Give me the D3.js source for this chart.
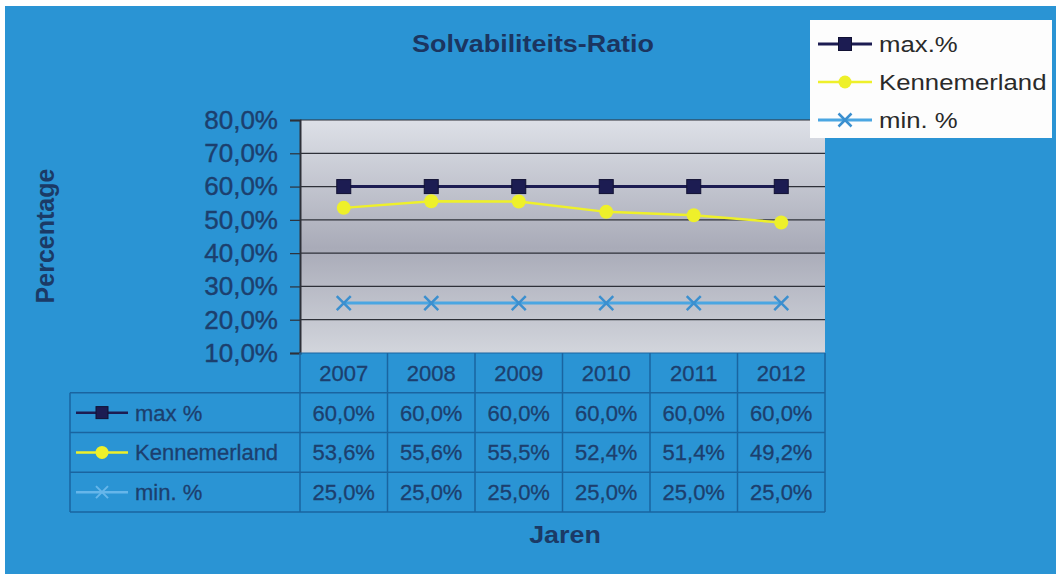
<!DOCTYPE html>
<html><head><meta charset="utf-8">
<script src="https://cdn.jsdelivr.net/npm/d3@7"></script>
<style>html,body{margin:0;padding:0;background:#fff;}svg{display:block;}</style>
</head><body>
<svg id="chart" width="1056" height="574"></svg>
<script>
const years = ["2007","2008","2009","2010","2011","2012"];
const maxPct = [0.60,0.60,0.60,0.60,0.60,0.60];
const kennemerland = [0.536,0.556,0.555,0.524,0.514,0.492];
const minPct = [0.25,0.25,0.25,0.25,0.25,0.25];
const yTicks = [0.1,0.2,0.3,0.4,0.5,0.6,0.7,0.8];
const seriesNames = ["max %","Kennemerland","min. %"];
const legendNames = ["max.%","Kennemerland","min. %"];
const title = "Solvabiliteits-Ratio";
const yTitle = "Percentage";
const xTitle = "Jaren";

const series = [
  {name: seriesNames[0], legend: legendNames[0], values: maxPct, color:"#1c1c52", marker:"square", width:3},
  {name: seriesNames[1], legend: legendNames[1], values: kennemerland, color:"#eef02a", marker:"circle", width:2.5},
  {name: seriesNames[2], legend: legendNames[2], values: minPct, color:"#4aa6e2", marker:"x", width:3}
];

const fmt = d3.formatLocale({decimal:",", thousands:".", grouping:[3], currency:["€",""]}).format(".1%");
const svg = d3.select("#chart");
const FONT = "Liberation Sans, Arial, sans-serif";
const txtColor = "#1c3f6e";

// background
svg.append("rect").attr("x",5).attr("y",6).attr("width",1051).attr("height",568).attr("fill","#2a94d4");

const L=300,R=825,T=120,B=353;
const x = d3.scaleBand().domain(years).range([L,R]);
const y = d3.scaleLinear().domain([0.1,0.8]).range([B,T]);

// plot area gradient
const defs = svg.append("defs");
const g = defs.append("linearGradient").attr("id","pg").attr("x1",0).attr("y1",0).attr("x2",0).attr("y2",1);
g.append("stop").attr("offset","0%").attr("stop-color","#dde0e7");
g.append("stop").attr("offset","55%").attr("stop-color","#a9abb8");
g.append("stop").attr("offset","100%").attr("stop-color","#d2d5dc");
svg.append("rect").attr("x",L).attr("y",T).attr("width",R-L).attr("height",B-T).attr("fill","url(#pg)");

// gridlines
svg.append("g").selectAll("line").data(yTicks.slice(1)).join("line")
  .attr("x1",L).attr("x2",R).attr("y1",d=>y(d)).attr("y2",d=>y(d))
  .attr("stroke","#2e3038").attr("stroke-width",1.2);

// y axis
const ya = svg.append("g").attr("transform",`translate(${L},0)`)
  .call(d3.axisLeft(y).tickValues(yTicks).tickFormat(fmt).tickSize(10).tickPadding(12));
ya.select(".domain").attr("stroke","#2e3038").attr("stroke-width",2);
ya.selectAll(".tick line").attr("stroke","#2e3038").attr("stroke-width",1.2);
ya.selectAll(".tick text").attr("fill",txtColor).attr("stroke",txtColor).attr("stroke-width",0.4)
  .attr("font-family",FONT).attr("font-size",26);

// lines
const line = d3.line().x((d,i)=>x(years[i])+x.bandwidth()/2).y(d=>y(d));
function drawMarker(sel, s, cx, cy, size){
  if(s.marker==="square"){
    sel.append("rect").attr("x",cx-size/2).attr("y",cy-size/2).attr("width",size).attr("height",size)
      .attr("fill",s.color).attr("stroke","#111133").attr("stroke-width",1);
  } else if(s.marker==="circle"){
    sel.append("circle").attr("cx",cx).attr("cy",cy).attr("r",size/2).attr("fill",s.color);
  } else {
    const h=size/2;
    sel.append("path").attr("d",`M${cx-h},${cy-h}L${cx+h},${cy+h}M${cx-h},${cy+h}L${cx+h},${cy-h}`)
      .attr("stroke","#3b8fcf").attr("stroke-width",2.5).attr("fill","none");
  }
}
series.forEach(s=>{
  svg.append("path").datum(s.values).attr("d",line).attr("fill","none")
    .attr("stroke",s.color).attr("stroke-width",s.width);
  const mg = svg.append("g");
  s.values.forEach((v,i)=>drawMarker(mg, s, x(years[i])+x.bandwidth()/2, y(v), 14));
});

function stretchText(parent, str, cx, cy, size, sx, opts){
  const t = parent.append("text").attr("transform",`translate(${cx},${cy}) scale(${sx},1)`)
    .attr("font-family",FONT).attr("font-size",size).text(str);
  Object.entries(opts||{}).forEach(([k,v])=>t.attr(k,v));
  return t;
}
// title
stretchText(svg, title, 533, 52, 24, 1.12, {"text-anchor":"middle","font-weight":"bold","fill":"#1b3560"});

// y title
svg.append("text").attr("transform","translate(54,236) rotate(-90)").attr("text-anchor","middle")
  .attr("font-family",FONT).attr("font-weight","bold").attr("font-size",25).attr("fill","#1b3a66").text(yTitle);

// x title
stretchText(svg, xTitle, 565, 543, 24, 1.12, {"text-anchor":"middle","font-weight":"bold","fill":"#1b3a66"});

// legend
const lg = svg.append("g");
lg.append("rect").attr("x",810).attr("y",20).attr("width",242).attr("height",118).attr("fill","#fdfdfd");
series.forEach((s,i)=>{
  const cy = 44 + i*38;
  lg.append("line").attr("x1",818).attr("x2",872).attr("y1",cy).attr("y2",cy).attr("stroke",s.color).attr("stroke-width",s.width);
  drawMarker(lg, s, 845, cy, 13);
  stretchText(lg, s.legend, 879, cy+8, 23, 1.12, {"fill":"#2a2a2a"});
});

// data table
const rowKeys = ["header", ...seriesNames];
const ry = d3.scaleBand().domain(rowKeys).range([353,512]);
const TL = 70;
const bc = "#1a64a0";
const tb = svg.append("g");
tb.append("line").attr("x1",L).attr("x2",R).attr("y1",ry("header")).attr("y2",ry("header")).attr("stroke",bc);
seriesNames.forEach(n=>{
  tb.append("line").attr("x1",TL).attr("x2",R).attr("y1",ry(n)).attr("y2",ry(n)).attr("stroke",bc).attr("stroke-width",1.5);
});
tb.append("line").attr("x1",TL).attr("x2",R).attr("y1",512).attr("y2",512).attr("stroke",bc).attr("stroke-width",1.5);
tb.append("line").attr("x1",TL).attr("x2",TL).attr("y1",ry(seriesNames[0])).attr("y2",512).attr("stroke",bc).attr("stroke-width",1.5);
[...years.map(yv=>x(yv)), R].forEach(xx=>{
  tb.append("line").attr("x1",xx).attr("x2",xx).attr("y1",353).attr("y2",512).attr("stroke",bc).attr("stroke-width",1.5);
});
function cellText(xx, yy, str, anchor){
  return tb.append("text").attr("x",xx).attr("y",yy).attr("text-anchor",anchor)
    .attr("font-family",FONT).attr("font-size",22).attr("fill",txtColor)
    .attr("stroke",txtColor).attr("stroke-width",0.3).text(str);
}
years.forEach(yv=>cellText(x(yv)+x.bandwidth()/2, ry("header")+ry.bandwidth()/2+8, yv, "middle"));
series.forEach(s=>{
  const cy = ry(s.name)+ry.bandwidth()/2;
  const lcol = s.marker==="x" ? "#66b6ea" : s.color;
  tb.append("line").attr("x1",76).attr("x2",128).attr("y1",cy).attr("y2",cy).attr("stroke",lcol).attr("stroke-width",2.5);
  if(s.marker==="x"){
    tb.append("path").attr("d",`M${96},${cy-6}L${108},${cy+6}M${96},${cy+6}L${108},${cy-6}`).attr("stroke","#66b6ea").attr("stroke-width",2);
  } else drawMarker(tb, s, 102, cy, s.marker==="circle"?13:12);
  cellText(135, cy+8, s.name, "start");
  s.values.forEach((v,i)=>cellText(x(years[i])+x.bandwidth()/2, cy+8, fmt(v), "middle"));
});
</script>
</body></html>
